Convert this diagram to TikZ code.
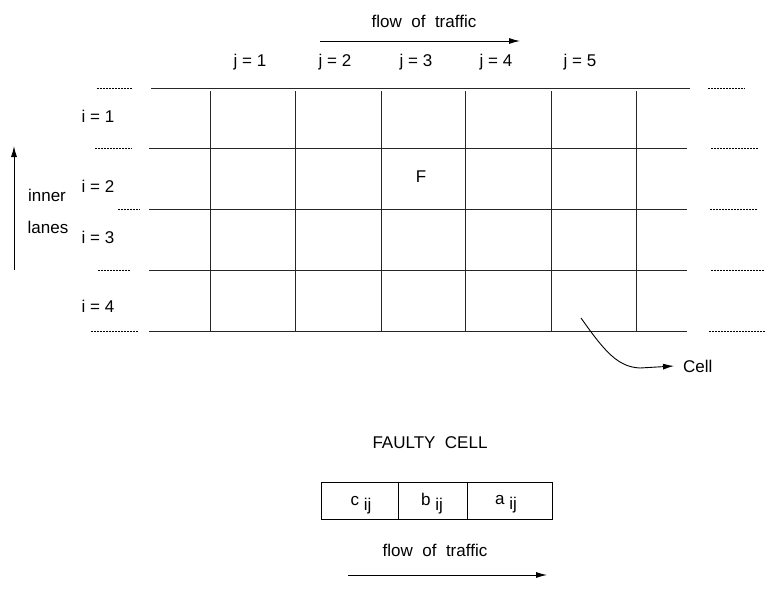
\documentclass[tikz,border=0pt]{standalone}
\usepackage{fontspec}
\setmainfont{Liberation Sans}
\usetikzlibrary{arrows.meta}
\begin{document}
\begin{tikzpicture}[x=1pt,y=-1pt,
  grid/.style={line width=1pt,draw=black!85},
  dots/.style={line width=0.9pt,dash pattern=on 1.5pt off 1.5pt},
  lbl/.style={font=\fontsize{17}{20}\selectfont,inner sep=0pt},
  arr/.style={line width=0.9pt,-{Latex[length=11pt,width=6pt]}}]
\useasboundingbox (0,0) rectangle (768,592);
% horizontal lines
\draw[grid] (151,88) -- (690,88);
\foreach \y in {148,209,270,331} \draw[grid] (149,\y) -- (687,\y);
% vertical lines
\foreach \x in {210,295,381,465,551,636} \draw[grid] (\x,91) -- (\x,331);
% dotted ends
\draw[dots] (97,88) -- (132,88);
\draw[dots] (95,148) -- (132,148);
\draw[dots] (118,209) -- (140,209);
\draw[dots] (98,270) -- (131,270);
\draw[dots] (91,331) -- (139,331);
\draw[dots] (708,88) -- (745,88);
\draw[dots] (711,148) -- (759,148);
\draw[dots] (710,209) -- (758,209);
\draw[dots] (711,270) -- (764,270);
\draw[dots] (709,331) -- (765,331);
% labels
\node[lbl] (t1) at (424,21) {flow\ \ of\ \ traffic};
\coordinate (a1s) at (320,41);
\coordinate (a1e) at (520,41);
\draw[arr] (a1s) -- (a1e);
\node[lbl] (j1) at (250,62) {j = 1};
\node[lbl] (j2) at (335,62) {j = 2};
\node[lbl] (j3) at (416,62) {j = 3};
\node[lbl] (j4) at (496,62) {j = 4};
\node[lbl] (j5) at (580,62) {j = 5};
\node[lbl] (i1) at (98,116) {i = 1};
\node[lbl] (i2) at (98,186) {i = 2};
\node[lbl] (i3) at (98,237) {i = 3};
\node[lbl] (i4) at (98,306) {i = 4};
\node[lbl] (inner) at (47,195) {inner};
\node[lbl] (lanes) at (48,227) {lanes};
\coordinate (la) at (14,270);
\coordinate (lb) at (14,146);
\draw[arr] (la) -- (lb);
\node[lbl] (F) at (421,177) {F};
% cell pointer
\node[lbl,anchor=west] (cell) at (683,366) {Cell};
\coordinate (cs) at (581,318);
\draw[arr] (cs) .. controls (605,352) and (618,367) .. (640,368) -- ([xshift=-9pt]cell.west);
% faulty cell
\node[lbl] (fc) at (430,443) {FAULTY\ \ CELL};
\node[draw,line width=0.9pt,minimum width=77pt,minimum height=37pt,inner sep=0pt] (c) at (359.5,500.5) {};
\node[draw,line width=0.9pt,minimum width=69pt,minimum height=37pt,inner sep=0pt] (b) at (432.5,500.5) {};
\node[draw,line width=0.9pt,minimum width=85pt,minimum height=37pt,inner sep=0pt] (a) at (509.5,500.5) {};
\node[lbl,anchor=base] (ct) at (361,505) {c\ \raisebox{-5pt}{ij}};
\node[lbl,anchor=base] (bt) at (432,505) {b\ \raisebox{-5pt}{ij}};
\node[lbl,anchor=base] (at) at (506,504) {a\ \raisebox{-5pt}{ij}};
\node[lbl] (t2) at (435,550) {flow\ \ of\ \ traffic};
\coordinate (a2s) at (348,575);
\coordinate (a2e) at (547,575);
\draw[arr] (a2s) -- (a2e);
\end{tikzpicture}
\end{document}
